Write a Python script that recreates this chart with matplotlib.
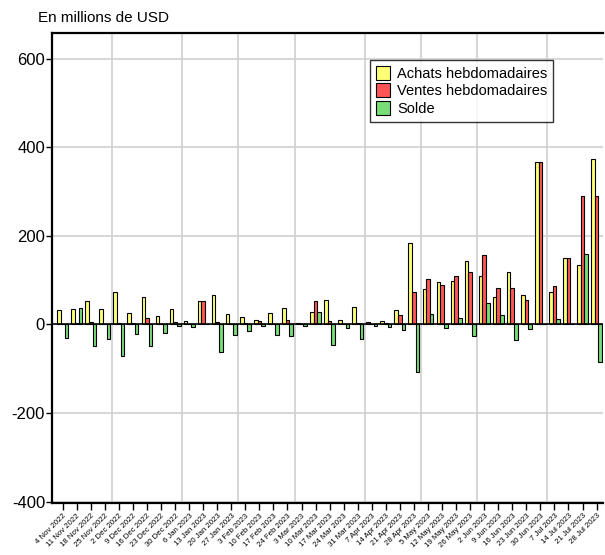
import matplotlib
matplotlib.use("Agg")
import matplotlib.pyplot as plt
import numpy as np

dates = ["4 Nov 2022", "11 Nov 2022", "18 Nov 2022", "25 Nov 2022",
         "2 Dec 2022", "9 Dec 2022", "16 Dec 2022", "23 Dec 2022", "30 Dec 2022",
         "6 Jan 2023", "13 Jan 2023", "20 Jan 2023", "27 Jan 2023",
         "3 Feb 2023", "10 Feb 2023", "17 Feb 2023", "24 Feb 2023",
         "3 Mar 2023", "10 Mar 2023", "17 Mar 2023", "24 Mar 2023", "31 Mar 2023",
         "7 Apr 2023", "14 Apr 2023", "21 Apr 2023", "28 Apr 2023",
         "5 May 2023", "12 May 2023", "19 May 2023", "26 May 2023",
         "2 Jun 2023", "9 Jun 2023", "16 Jun 2023", "23 Jun 2023", "30 Jun 2023",
         "7 Jul 2023", "14 Jul 2023", "21 Jul 2023", "28 Jul 2023"]

achats = [32, 34, 53, 34, 72, 25, 62, 19, 34, 8, 52, 67, 23, 17, 10, 26, 37,
          4, 27, 55, 10, 40, 5, 8, 32, 184, 79, 96, 97, 142, 108, 61, 117, 67,
          367, 73, 149, 133, 373]
ventes = [1, 2, 5, 1, 2, 2, 14, 1, 6, 1, 52, 5, 1, 3, 7, 1, 10,
          1, 53, 7, 1, 4, 1, 3, 21, 74, 102, 89, 110, 117, 156, 82, 83, 56,
          367, 86, 149, 290, 290]
solde = [-30, 36, -49, -34, -71, -22, -50, -20, -3, -7, 0, -63, -23, -16, -4, -24, -27,
         -4, 27, -47, -9, -34, -4, -7, -12, -108, 23, -8, 14, -26, 48, 22, -35, -10,
         0, 13, 0, 158, -84]

month_bounds = [3.5, 8.5, 12.5, 16.5, 21.5, 25.5, 29.5, 34.5]

FONT = ["Liberation Sans", "DejaVu Sans"]
plt.rcParams["font.family"] = FONT

fig = plt.figure(figsize=(6.05, 5.55), dpi=100)
ax = fig.add_axes([0.086, 0.094, 0.911, 0.846])

x = np.arange(len(dates))
w = 0.26
ax.bar(x - w, achats, w, color="#FFFF77", edgecolor="black", linewidth=0.8,
       label="Achats hebdomadaires", zorder=3)
ax.bar(x, ventes, w, color="#FF5555", edgecolor="black", linewidth=0.8,
       label="Ventes hebdomadaires", zorder=3)
ax.bar(x + w, solde, w, color="#77DD77", edgecolor="black", linewidth=0.8,
       label="Solde", zorder=3)

ax.axhline(0, color="black", linewidth=1.2, zorder=4)
for b in month_bounds:
    ax.axvline(b, color="#d0d0d0", linewidth=1.2, zorder=0)
for yv in [-400, -200, 200, 400, 600]:
    ax.axhline(yv, color="#d0d0d0", linewidth=1.2, zorder=0)

ax.set_xlim(-0.76, 38.47)
ax.set_ylim(-403, 657)
ax.set_yticks([-400, -200, 0, 200, 400, 600])
ax.set_yticklabels(["-400", "-200", "0", "200", "400", "600"], fontsize=12)
ax.set_xticks(x)
ax.set_xticklabels(dates, rotation=45, ha="right", rotation_mode="anchor",
                   fontsize=5.6)
ax.tick_params(axis="x", length=5, width=1, pad=2)
ax.tick_params(axis="y", length=4, width=1, pad=1)

for s in ["left", "bottom", "top"]:
    ax.spines[s].set_linewidth(1.6)
ax.spines["right"].set_visible(False)

fig.text(0.063, 0.968, "En millions de USD", fontsize=11, ha="left", va="center")

leg = ax.legend(loc="upper left", bbox_to_anchor=(0.577, 0.943), fontsize=10.5,
                frameon=True, fancybox=False, edgecolor="black",
                handlelength=1.0, handleheight=1.1, handletextpad=0.45,
                labelspacing=0.18, borderpad=0.4, borderaxespad=0)
leg.get_frame().set_linewidth(1.0)

fig.savefig("out.png", dpi=100)
